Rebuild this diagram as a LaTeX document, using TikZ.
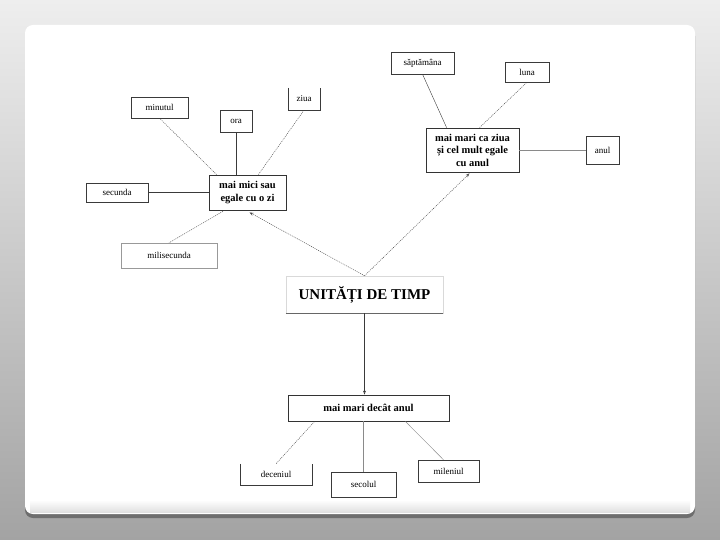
\documentclass[tikz,border=0pt]{standalone}
\usepackage{fontspec}
\setmainfont{Liberation Serif}
\usetikzlibrary{
  arrows.meta,
  positioning,
  calc,
  shadows
}
\definecolor{utBack}{HTML}{A3A3A3}
\definecolor{utTop}{HTML}{EEEEEE}
\definecolor{utEdge}{HTML}{6E6E6E}
\definecolor{utLine}{HTML}{3A3A3A}
\definecolor{utFaint}{HTML}{8A8A8A}
\tikzset{
  utnode/.style={
    draw=utLine, inner sep=1pt, align=center, font=\fontsize{9}{10}\selectfont
  },
  leaf/.style={utnode},
  openleaf/.style={utnode, draw=none},
  group/.style={utnode, thick, draw=black!80, font=\fontsize{10.5}{12.5}\selectfont\bfseries},
  rootbox/.style={utnode, draw=black!15, font=\fontsize{15}{17}\selectfont\bfseries},
  link/.style={thin, utLine},
  faintlink/.style={thin, utFaint},
  dotlink/.style={thin, utLine, dash pattern=on 1pt off 1pt},
  pointer/.style={-{Stealth[length=4pt, width=3pt, open]}, thin, utLine},
  dotpointer/.style={pointer, dash pattern=on 1pt off 1pt}
}

\begin{document}
\begin{tikzpicture}[x=1pt, y=-1pt]
  % background and panel
  \useasboundingbox (0,0) rectangle (720,540);
  \shade[top color=utTop, bottom color=utBack] (0,0) rectangle (720,540);
  \fill[utEdge, rounded corners=8pt] (25,28) rectangle (695,518);
  \fill[white, rounded corners=8pt] (25,25) rectangle (695,514);
  \shade[top color=white, bottom color=black!12] (30,500) rectangle (690,512);

  % root and groups
  \node[rootbox, minimum width=157pt, minimum height=37pt] (root) at (364.5,294.5) {UNITĂȚI DE TIMP};
  \draw[black!60] (root.south west) -- (root.south east);
  \node[group, minimum width=77pt, minimum height=35pt] (small) at (247.5,192.5) {mai mici sau\\egale cu o zi};
  \node[group, minimum width=93pt, minimum height=44pt] (mid) at (472.5,150) {mai mari ca ziua\\și cel mult egale\\cu \textbf{anul}};
  \node[group, minimum width=161pt, minimum height=26pt] (big) at (368.5,408) {mai mari decât anul};

  % leaves of the small group
  \node[leaf, minimum width=57pt, minimum height=21pt] (minutul) at (159.5,107.5) {minutul};
  \node[leaf, minimum width=32pt, minimum height=22pt] (ora) at (236,121) {ora};
  \node[openleaf, minimum width=32pt, minimum height=22pt] (ziua) at (304,99) {ziua};
  \draw[utLine] (ziua.north west) -- (ziua.south west) -- (ziua.south east) -- (ziua.north east);
  \node[leaf, minimum width=62pt, minimum height=19pt] (secunda) at (117,192.5) {secunda};
  \node[leaf, draw=black!40, minimum width=96pt, minimum height=25pt] (milisecunda) at (169,255.5) {milisecunda};

  % leaves of the middle group
  \node[leaf, minimum width=63pt, minimum height=22pt] (saptamana) at (422.5,63) {săptămâna};
  \node[leaf, minimum width=44pt, minimum height=20pt] (luna) at (527,72) {luna};
  \node[leaf, minimum width=33pt, minimum height=28pt] (anul) at (602.5,150) {anul};

  % leaves of the big group
  \node[openleaf, minimum width=72pt, minimum height=21pt] (deceniul) at (276,474.5) {deceniul};
  \draw[utLine] (deceniul.north west) -- (deceniul.south west) -- (deceniul.south east) -- (deceniul.north east);
  \node[leaf, minimum width=65pt, minimum height=25pt] (secolul) at (363.5,484.5) {secolul};
  \node[leaf, minimum width=61pt, minimum height=22pt] (mileniul) at (448.5,471) {mileniul};

  % root to groups
  \draw[dotpointer] (root.north) -- ($(small.south)+(2,2)$);
  \draw[dotpointer] (root.north) -- ($(mid.south)+(-3,1)$);
  \draw[pointer] (root.south) -- (big.north -| root.south);

  % small group
  \draw[dotlink] ($(small.north west)+(8,0)$) -- (minutul.south);
  \draw[link] (small.north -| ora.south) -- (ora.south);
  \draw[dotlink] ($(small.north east)+(-28,0)$) -- (ziua.south);
  \draw[link] (small.west) -- (secunda.east);
  \draw[dotlink] ($(small.south west)+(16,0)$) -- (milisecunda.north);

  % middle group
  \draw[link] ($(mid.north west)+(21,0)$) -- (saptamana.south);
  \draw[dotlink] ($(mid.north west)+(54,0)$) -- (luna.south);
  \draw[faintlink] (mid.east) -- (anul.west);

  % big group
  \draw[dotlink] ($(big.south west)+(27,0)$) -- (deceniul.north);
  \draw[faintlink] (big.south -| secolul.north) -- (secolul.north);
  \draw[faintlink] ($(big.south east)+(-44,0)$) -- ($(mileniul.north)+(-5,0)$);
\end{tikzpicture}
\end{document}
